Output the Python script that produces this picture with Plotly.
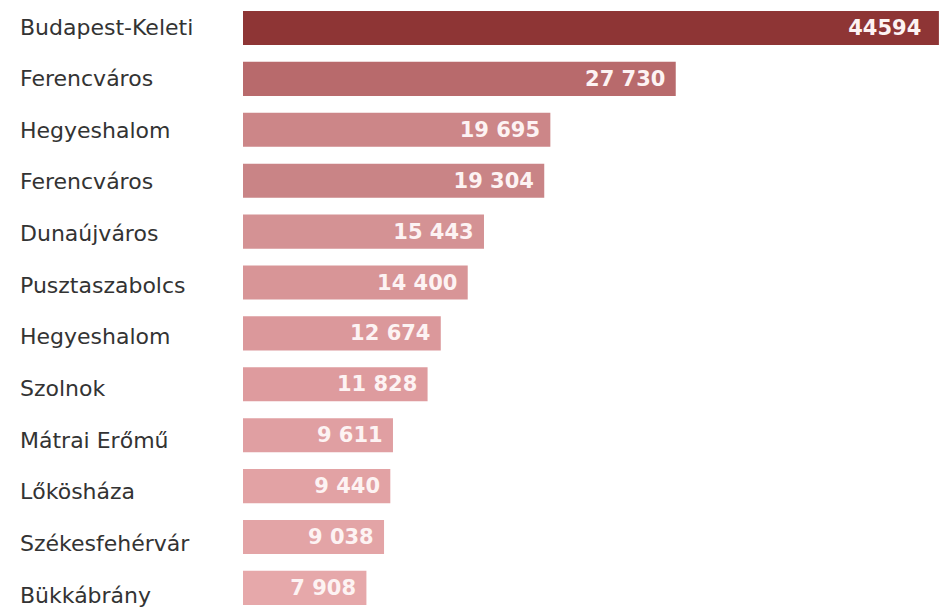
import plotly.graph_objects as go

# Stations and annual values, top to bottom
stations = [
    "Budapest-Keleti", "Ferencváros", "Hegyeshalom", "Ferencváros",
    "Dunaújváros", "Pusztaszabolcs", "Hegyeshalom", "Szolnok",
    "Mátrai Erőmű", "Lőkösháza", "Székesfehérvár", "Bükkábrány",
]
values = [44594, 27730, 19695, 19304, 15443, 14400, 12674, 11828, 9611, 9440, 9038, 7908]
bar_colors = [
    "#8e3535", "#b86a6c", "#cc8688", "#c98486", "#d49294", "#d89597",
    "#db989b", "#de9b9e", "#e09fa2", "#e2a2a4", "#e3a4a6", "#e6a8aa",
]

positions = list(range(len(values)))


def fmt(v, grouped=True):
    s = f"{v:,}"
    return s.replace(",", " ") if grouped else s.replace(",", "")


value_text = [fmt(v, grouped=(i != 0)) for i, v in enumerate(values)]
# right padding inside each bar (the widest bar gets a little more)
text_templates = ["%{text}\u00a0\u00a0"] + ["%{text}\u00a0"] * (len(values) - 1)

W, H = 939, 611
left = 243
row_px = 50.9
first_center = 28

fig = go.Figure(
    go.Bar(
        x=values,
        y=positions,
        orientation="h",
        marker=dict(color=bar_colors, line=dict(width=0)),
        width=0.67,
        text=value_text,
        texttemplate=text_templates,
        textposition="inside",
        insidetextanchor="end",
        textfont=dict(family="DejaVu Sans", size=21, color="#fdf3f3", weight="bold"),
        cliponaxis=True,
        hoverinfo="skip",
    )
)

# Station names, left-aligned in the left margin
for i, name in enumerate(stations):
    fig.add_annotation(
        x=(18 - left) / (W - left),
        xref="paper",
        y=i,
        yref="y",
        text=name,
        showarrow=False,
        xanchor="left",
        yanchor="middle",
        yshift=1 - 0.75 * i,
        font=dict(family="DejaVu Sans", size=22, color="#333333"),
    )

fig.update_layout(
    width=W,
    height=H,
    margin=dict(l=left, r=0, t=0, b=0),
    paper_bgcolor="white",
    plot_bgcolor="white",
    showlegend=False,
    xaxis=dict(
        range=[0, 44600],
        visible=False,
        showgrid=False,
        zeroline=False,
        fixedrange=True,
    ),
    yaxis=dict(
        range=[(H - first_center) / row_px, -first_center / row_px],
        visible=False,
        showgrid=False,
        zeroline=False,
        fixedrange=True,
    ),
)

fig.write_html("out.html")
